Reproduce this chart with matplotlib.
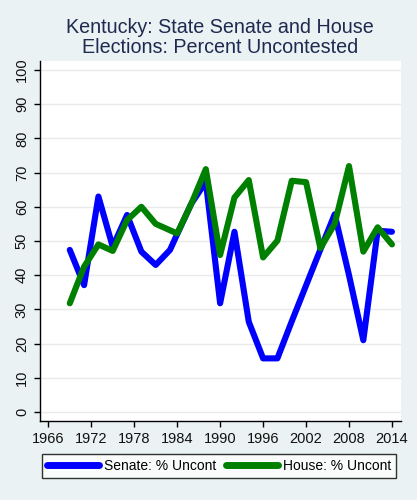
import numpy as np
import matplotlib
matplotlib.use('Agg')
import matplotlib.pyplot as plt

plt.rcParams['font.family'] = ['Liberation Sans', 'DejaVu Sans']

# Kentucky legislature, share of seats uncontested (%)
senate_years = [1969, 1971, 1973, 1975, 1977, 1979, 1981, 1983, 1984, 1986, 1988,
                1990, 1992, 1994, 1996, 1998, 2000, 2002, 2004, 2006, 2008, 2010, 2012, 2014]
senate_pct = [47.4, 37.1, 63.0, 48.3, 57.6, 46.9, 43.0, 47.4, 52.0, 61.0, 67.3,
              31.8, 52.7, 26.4, 15.7, 15.7, 26.5, 37.0, 47.5, 57.8, 40.0, 21.0, 53.0, 52.7]

house_years = [1969, 1971, 1973, 1975, 1977, 1979, 1981, 1984, 1986, 1988,
               1990, 1992, 1994, 1996, 1998, 2000, 2002, 2004, 2006, 2008, 2010, 2012, 2014]
house_pct = [31.8, 42.5, 49.0, 47.1, 56.1, 60.0, 55.0, 52.2, 61.0, 71.0,
             45.9, 62.7, 67.8, 45.2, 50.1, 67.6, 67.2, 47.9, 55.0, 71.9, 46.9, 54.0, 49.0]

xticks = list(range(1966, 2015, 6))
yticks = list(range(0, 101, 10))

bg = '#eaf2f3'
fig = plt.figure(figsize=(4.17, 5.0), dpi=100, facecolor=bg)
ax = fig.add_axes([0.0959, 0.158, 0.8657, 0.72])
ax.set_facecolor('white')

ax.plot(senate_years, senate_pct, color='#0000ff', lw=4.4, solid_capstyle='round',
        solid_joinstyle='round', label='Senate: % Uncont')
ax.plot(house_years, house_pct, color='#008000', lw=4.4, solid_capstyle='round',
        solid_joinstyle='round', label='House: % Uncont')

ax.set_xlim(1964.84, 2015.26)
ax.set_ylim(-2.6, 102.6)
ax.set_xticks(xticks)
ax.set_yticks(yticks)
ax.tick_params(axis='both', labelsize=10.5, colors='black', labelcolor='#111111',
               direction='out', length=4.5, width=1)
ax.tick_params(axis='y', labelrotation=90)
for lab in ax.get_yticklabels():
    lab.set_va('center')
ax.grid(axis='y', color='#eaeaea', lw=1)
ax.set_axisbelow(True)
for s in ['top', 'right']:
    ax.spines[s].set_visible(False)
for s in ['left', 'bottom']:
    ax.spines[s].set_color('black')
    ax.spines[s].set_linewidth(1)

fig.text(0.528, 0.925, 'Kentucky: State Senate and House\nElections: Percent Uncontested',
         ha='center', va='center', fontsize=14.2, color='#1e2a50', linespacing=1.1)

leg = fig.legend(loc='center', bbox_to_anchor=(0.526, 0.068), ncol=2, fontsize=10,
                 frameon=True, fancybox=False, edgecolor='black', handlelength=3.7,
                 columnspacing=0.7, handletextpad=0.4, borderpad=0.35, borderaxespad=0)
leg.get_frame().set_linewidth(1)
for line in leg.get_lines():
    line.set_linewidth(5)
    line.set_solid_capstyle('round')

plt.savefig('out.png', dpi=100, facecolor=bg)
